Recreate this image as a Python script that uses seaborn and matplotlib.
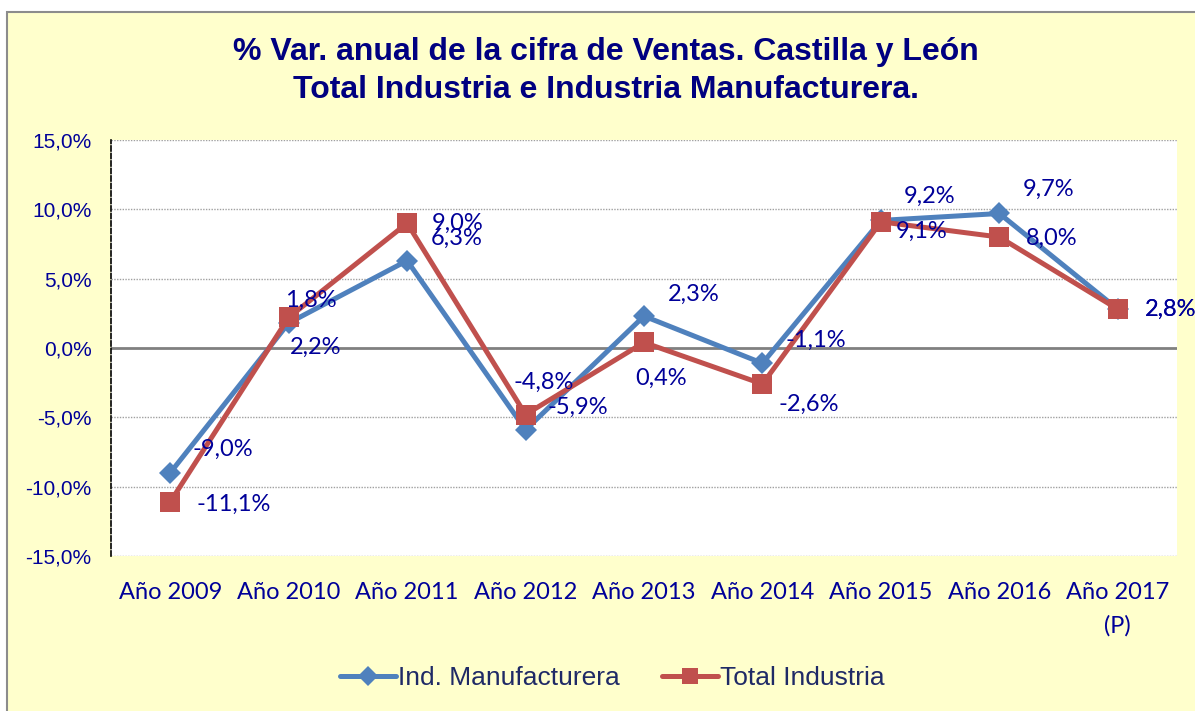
import matplotlib
matplotlib.use("Agg")
import matplotlib.pyplot as plt
import seaborn as sns
import pandas as pd
import numpy as np
from matplotlib.patches import Rectangle
from matplotlib.lines import Line2D

categorias = ["Año 2009", "Año 2010", "Año 2011", "Año 2012", "Año 2013",
              "Año 2014", "Año 2015", "Año 2016", "Año 2017\n(P)"]
manufacturera = [-9.0, 1.8, 6.3, -5.9, 2.3, -1.1, 9.2, 9.7, 2.8]
total_industria = [-11.1, 2.2, 9.0, -4.8, 0.4, -2.6, 9.1, 8.0, 2.8]
serie_names = ["Ind. Manufacturera", "Total Industria"]
y_ticks = [-15, -10, -5, 0, 5, 10, 15]

BLUE = "#4F81BD"
RED = "#C0504D"
NAVY = "#000099"
LEG_TXT = "#1F2A66"

sns.set_style("white")
plt.rcParams["font.family"] = ["Liberation Sans", "DejaVu Sans"]

W, H = 1195, 711
fig = plt.figure(figsize=(W / 100, H / 100), dpi=100)
fig.patch.set_facecolor("white")
fig.add_artist(Rectangle((7 / W, -0.01), 1.02, 1 - 12 / H + 0.01,
                         transform=fig.transFigure, facecolor="#FFFFCC",
                         edgecolor="#8C8C8C", linewidth=1.5, zorder=-10))

ax = fig.add_axes([111 / W, 1 - 556 / H, (1177 - 111) / W, (556 - 140) / H])
ax.set_facecolor("white")

df = pd.DataFrame({
    "idx": list(range(len(categorias))) * 2,
    "valor": manufacturera + total_industria,
    "serie": [serie_names[0]] * len(categorias) + [serie_names[1]] * len(categorias),
})

sns.lineplot(data=df, x="idx", y="valor", hue="serie", style="serie",
             palette={serie_names[0]: BLUE, serie_names[1]: RED},
             markers={serie_names[0]: "D", serie_names[1]: "s"},
             dashes=False, linewidth=3.6, markersize=12,
             markeredgewidth=0, legend=False, ax=ax, zorder=3)
for ln in ax.lines:
    if ln.get_marker() == "s":
        ln.set_markersize(14.5)
    elif ln.get_marker() == "D":
        ln.set_markersize(11.5)

ax.set_xlim(-0.5, len(categorias) - 0.5)
ax.set_ylim(-15, 15)
ax.set_yticks(y_ticks)
ax.set_yticklabels([f"{v:.1f}%".replace(".", ",") for v in y_ticks],
                   fontsize=15, color=NAVY, family=["Liberation Sans"])
ax.set_xticks(range(len(categorias)))
ax.set_xticklabels(categorias, fontsize=17, color=NAVY, family=["Lato", "DejaVu Sans"],
                   linespacing=1.65)
ax.tick_params(axis="x", length=0, pad=19)
ax.tick_params(axis="y", length=0, pad=14)
ax.set_xlabel("")
ax.set_ylabel("")

for v in y_ticks:
    if v == 0:
        ax.axhline(0, color="#808080", linewidth=2, zorder=1)
    else:
        ax.axhline(v, color="#A0A0A0", linewidth=1, linestyle=(0, (1, 1)), zorder=1)

for s in ["top", "right", "bottom"]:
    ax.spines[s].set_visible(False)
ax.spines["left"].set_linestyle((0, (3, 1.5)))
ax.spines["left"].set_color("black")
ax.spines["left"].set_linewidth(1.2)

# data labels (offset in pixels from the point)
off_blue = [(53, 23), (22, 23), (50, 22), (52, 22), (50, 22), (53, 23), (49, 24), (49, 24), (53, 0)]
off_red = [(63, -2), (27, -30), (51, 0), (18, 32), (17, -36), (46, -20), (41, -10), (52, -1), (53, 0)]
for i, (vb, vr) in enumerate(zip(manufacturera, total_industria)):
    ax.annotate(f"{vb:.1f}%".replace(".", ","), (i, vb), xytext=off_blue[i],
                textcoords="offset pixels", ha="center", va="center",
                fontsize=17, color=NAVY, family=["Lato", "DejaVu Sans"],
                annotation_clip=False, zorder=5)
    ax.annotate(f"{vr:.1f}%".replace(".", ","), (i, vr), xytext=off_red[i],
                textcoords="offset pixels", ha="center", va="center",
                fontsize=17, color=NAVY, family=["Lato", "DejaVu Sans"],
                annotation_clip=False, zorder=5)

fig.text(606 / W, 1 - 52 / H, "% Var. anual de la cifra de Ventas. Castilla y León",
         ha="center", va="center", fontsize=23, fontweight="bold", color="#000080")
fig.text(606 / W, 1 - 90 / H, "Total Industria e Industria Manufacturera.",
         ha="center", va="center", fontsize=23, fontweight="bold", color="#000080")

handles = [
    Line2D([], [], color=BLUE, marker="D", markersize=10, linewidth=3.6, markeredgewidth=0),
    Line2D([], [], color=RED, marker="s", markersize=12, linewidth=3.6, markeredgewidth=0),
]
leg = fig.legend(handles, serie_names, loc="center", bbox_to_anchor=(612 / W, 1 - 678 / H),
                 ncol=2, frameon=False, fontsize=19, handlelength=2.15,
                 handletextpad=0.05, columnspacing=1.6)
for t in leg.get_texts():
    t.set_color(LEG_TXT)

fig.savefig("out.png", dpi=100, facecolor=fig.get_facecolor())
